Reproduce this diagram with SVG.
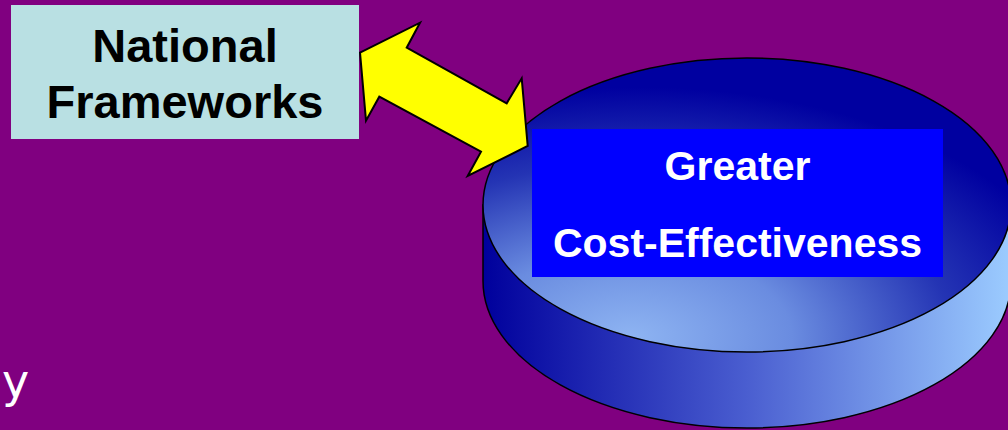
<svg xmlns="http://www.w3.org/2000/svg" width="1008" height="430" viewBox="0 0 1008 430">
<defs>
<style>
.lbl{font-family:"Liberation Sans",Arial,sans-serif;font-weight:bold;text-anchor:middle}
.edge{stroke:#000;stroke-width:1.5}
</style>
<linearGradient id="side" x1="0" y1="0" x2="1" y2="0">
<stop offset="0" stop-color="#00009C"/>
<stop offset="0.5" stop-color="#4A5ED0"/>
<stop offset="1" stop-color="#9CCCFF"/>
</linearGradient>
<radialGradient id="top" cx="0.3" cy="0.95" r="0.85" fx="0.28" fy="0.95">
<stop offset="0" stop-color="#8EB4F2"/>
<stop offset="0.35" stop-color="#6A8CE0"/>
<stop offset="0.7" stop-color="#2434B4"/>
<stop offset="1" stop-color="#0000A0"/>
</radialGradient>
</defs>
<rect width="1008" height="430" fill="#800080"/>
<g id="national-frameworks">
<rect x="11" y="5" width="348" height="134" fill="#B9E0E3"/>
<text class="lbl" x="185" y="62" font-size="47" fill="#000">National</text>
<text class="lbl" x="185" y="118" font-size="47" fill="#000">Frameworks</text>
</g>
<g id="cost-effectiveness">
<path class="edge" d="M483 205 L483 281 A264 147 0 0 0 1011 281 L1011 205 Z" fill="url(#side)"/>
<ellipse class="edge" cx="747" cy="205" rx="264" ry="147" fill="url(#top)"/>
<rect x="532" y="129" width="411" height="148" fill="#0000FF"/>
<text class="lbl" x="737.5" y="180" font-size="41" fill="#FFF">Greater</text>
<text class="lbl" x="737.5" y="257" font-size="41" fill="#FFF">Cost-Effectiveness</text>
</g>
<g id="connectors">
<polygon points="360,52.7 420,22.7 406.7,47.7 506.7,103.3 521.7,78.3 527.7,146 467.7,176 481,151.7 379.3,96.7 366,120.7" fill="#FFFF00" stroke="#000" stroke-width="2" stroke-linejoin="miter"/>
</g>
<text x="2" y="397" font-family="DejaVu Sans,sans-serif" font-size="46" fill="#FFF">y</text>
</svg>
